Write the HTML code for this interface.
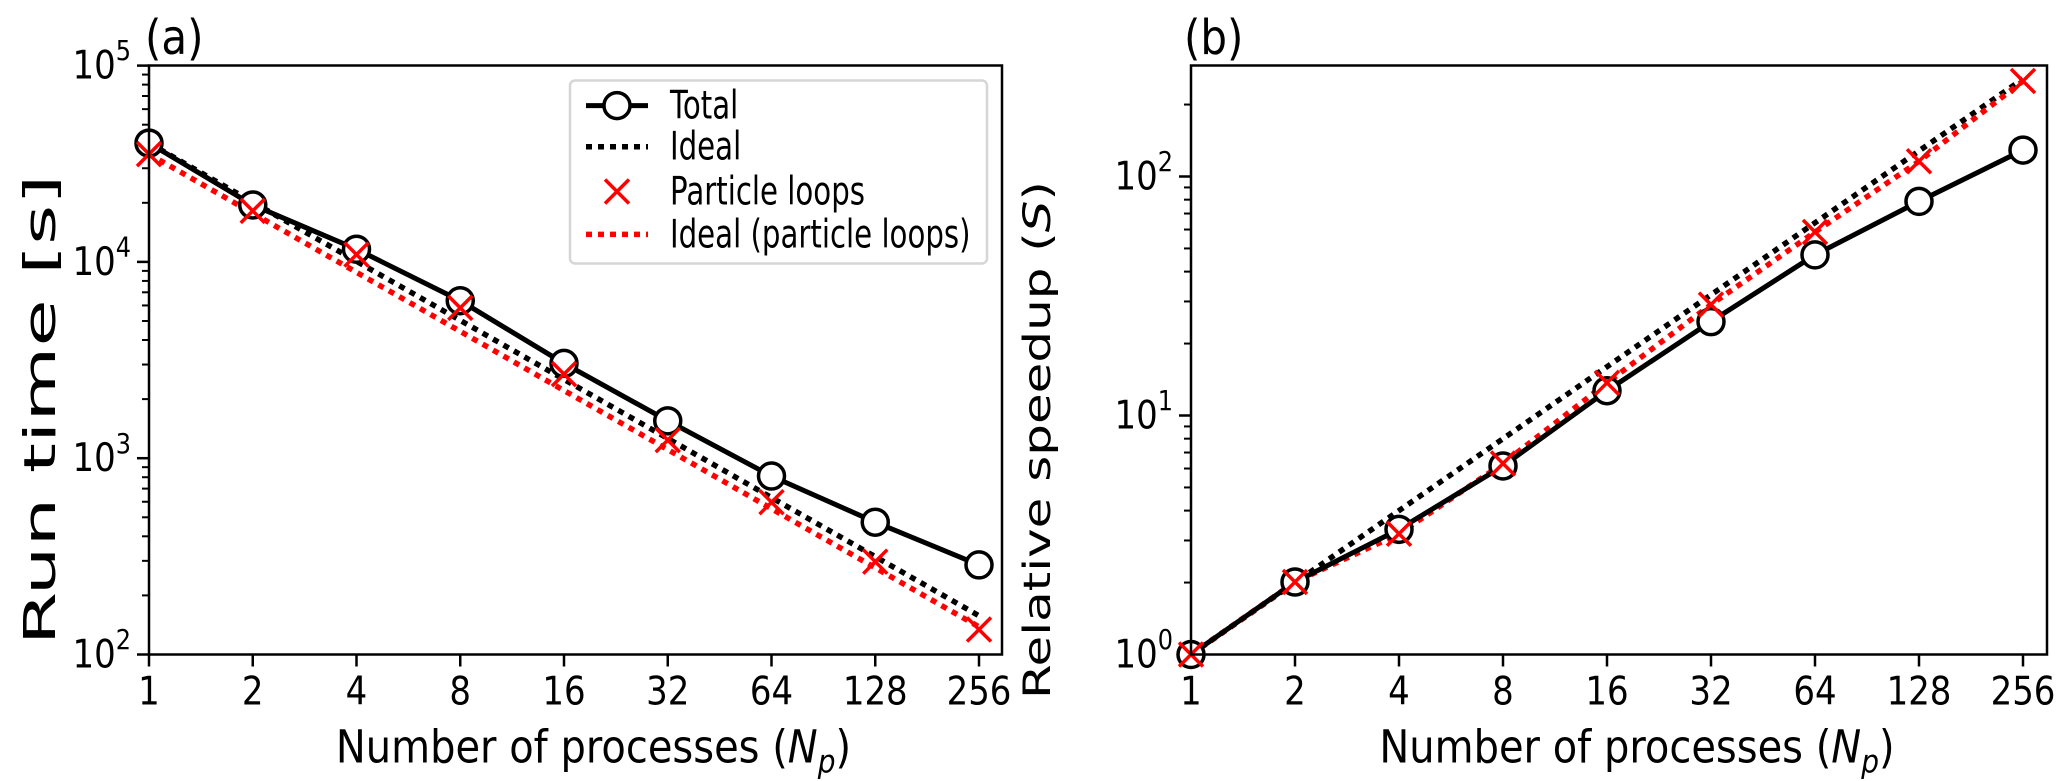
<!DOCTYPE html>
<html><head><meta charset="utf-8"><style>
html,body{margin:0;padding:0;background:#fff;}
svg{display:block;font-family:"DejaVu Sans","Liberation Sans",sans-serif;}
</style></head><body>
<svg id="fig" width="2067" height="781" viewBox="0 0 2067 781" xmlns="http://www.w3.org/2000/svg"></svg>
<script>
// ---- data ----
const procs = [1, 2, 4, 8, 16, 32, 64, 128, 256];
const xTickLabels = ["1","2","4","8","16","32","64","128","256"];
const totalTime = [40300, 19500, 11600, 6340, 3040, 1550, 811, 472, 286];
const particleTime = [35400, 18200, 10900, 5830, 2680, 1236, 597, 297, 134];
const totalSpeedup = [1, 2.01, 3.34, 6.15, 12.7, 24.7, 47, 78.7, 129];
const particleSpeedup = [1, 2.01, 3.2, 6.3, 13.7, 29.1, 58.6, 115.8, 251];
const leftYTicks = [2, 3, 4, 5];
const rightYTicks = [0, 1, 2];
const legendLabels = ["Total", "Ideal", "Particle loops", "Ideal (particle loops)"];

const NS = "http://www.w3.org/2000/svg";
const svg = document.getElementById('fig');
function el(tag, attrs, parent) {
  const e = document.createElementNS(NS, tag);
  for (const k in attrs) e.setAttribute(k, attrs[k]);
  (parent || svg).appendChild(e);
  return e;
}
function stext(parent, x, y, size, anchor, sx, sy, rot) {
  const g = el('g', {transform: 'translate(' + x + ',' + y + ')' + (rot ? ' rotate(-90)' : '') + ' scale(' + sx + ',' + sy + ')'}, parent);
  return el('text', {x: 0, y: 0, 'font-size': size, 'text-anchor': anchor}, g);
}
function makeAxes(cfg) {
  const g = el('g', {});
  
  
  const X = v => cfg.x0 + Math.log2(v) * cfg.dx;
  const Y = v => cfg.yb - (Math.log10(v) - cfg.ymin) * cfg.dy;
  for (let d = cfg.ymin; d < cfg.ymaxD; d++) {
    for (let m = 2; m <= 9; m++) {
      const y = Y(m * Math.pow(10, d));
      if (y < cfg.yt - 0.5) continue;
      const t = el('line', {x1: cfg.x0 - 7, x2: cfg.x0, y1: y, y2: y, stroke: '#000', 'stroke-width': 2}, g);
      
      
    }
  }
  cfg.yTicks.forEach(p => {
    const y = Y(Math.pow(10, p));
    const t = el('line', {x1: cfg.x0 - 12, x2: cfg.x0, y1: y, y2: y, stroke: '#000', 'stroke-width': 2.5}, g);
    
    
    const tx = stext(g, cfg.x0 - 18, y + 13, 34, 'end', 1, 1.15);
    
    
    tx.innerHTML = '10<tspan dy="-16" font-size="24">' + p + '</tspan>';
  });
  procs.forEach((p, i) => {
    const x = X(p);
    const t = el('line', {x1: x, x2: x, y1: cfg.yb, y2: cfg.yb + 12, stroke: '#000', 'stroke-width': 2.5}, g);
    
    
    const tx = stext(g, x, cfg.yb + 50, 34, 'middle', 1, 1.15);
    
    
    tx.textContent = xTickLabels[i];
  });
  const xl = stext(g, (cfg.x0 + cfg.xr) / 2 + 18, cfg.yb + 108, 40, 'middle', 1, 1.13);
  
  
  xl.innerHTML = 'Number of processes (<tspan font-style="italic">N</tspan><tspan font-style="italic" font-size="28" dy="9">p</tspan><tspan dy="-9">)</tspan>';
  const yl = stext(g, cfg.ylx, cfg.ylc, cfg.ylf, 'middle', cfg.ylsx, 1, true);
  
  
  yl.innerHTML = cfg.ylabel;
  const pl = stext(g, cfg.plx, 54, 42, 'start', 1, 1.15);
  
  
  pl.textContent = cfg.panel;
  const clip = el('clipPath', {id: 'clip' + cfg.name});
  el('rect', {x: cfg.x0, y: cfg.yt, width: cfg.xr - cfg.x0, height: cfg.yb - cfg.yt}, clip);
  const plot = el('g', {'clip-path': 'url(#clip' + cfg.name + ')'}, g);
  return {g, plot, X, Y};
}
function line(ax, xs, ys, name, attrs) {
  const d = xs.map((v, i) => (i ? 'L' : 'M') + ax.X(v).toFixed(1) + ' ' + ax.Y(ys[i]).toFixed(1)).join(' ');
  const p = el('path', Object.assign({d, fill: 'none'}, attrs), ax.plot);
  
  
}
function circles(ax, xs, ys, name) {
  xs.forEach((v, i) => {
    const c = el('circle', {cx: ax.X(v), cy: ax.Y(ys[i]), r: 13, fill: '#fff', stroke: '#000', 'stroke-width': 3.5}, ax.g);
    
    
  });
}
function crosses(ax, xs, ys, name) {
  xs.forEach((v, i) => {
    const x = ax.X(v), y = ax.Y(ys[i]), s = 12;
    const p = el('path', {d: `M${x-s} ${y-s}L${x+s} ${y+s}M${x-s} ${y+s}L${x+s} ${y-s}`, stroke: '#f00', 'stroke-width': 3.5, fill: 'none'}, ax.g);
    
    
  });
}
const solid = {stroke: '#000', 'stroke-width': 5};
const dotK = {stroke: '#000', 'stroke-width': 5.5, 'stroke-dasharray': '6 6'};
const dotR = {stroke: '#f00', 'stroke-width': 5.5, 'stroke-dasharray': '6 6'};

// ---- panel (a) ----
const A = makeAxes({name: 'run-time-chart', x0: 149, xr: 1002, dx: 103.75, yt: 65.5, yb: 654.5, ymin: 2, ymaxD: 5, dy: 196.3,
  yTicks: leftYTicks, ylx: 55, ylc: 410, ylf: 44, ylsx: 1.75, ylabel: 'Run time [s]', panel: '(a)', plx: 145});
line(A, procs, procs.map(p => totalTime[0] / p), 'ideal-line', dotK);
line(A, procs, procs.map(p => particleTime[0] / p), 'ideal-particle-line', dotR);
line(A, procs, totalTime, 'total-line', solid);
circles(A, procs, totalTime, 'total-marker');
crosses(A, procs, particleTime, 'particle-marker');

// ---- panel (b) ----
const B = makeAxes({name: 'speedup-chart', x0: 1191, xr: 2047, dx: 104, yt: 65.5, yb: 654.5, ymin: 0, ymaxD: 3, dy: 239,
  yTicks: rightYTicks, ylx: 1050, ylc: 440, ylf: 37, ylsx: 1.35, ylabel: 'Relative speedup (<tspan font-style="italic">S</tspan>)', panel: '(b)', plx: 1184});
line(B, procs, procs.map(p => p), 'ideal-line', dotK);
line(B, procs, particleSpeedup, 'ideal-particle-line', dotR);
line(B, procs, totalSpeedup, 'total-line', solid);
circles(B, procs, totalSpeedup, 'total-marker');
crosses(B, procs, particleSpeedup, 'particle-marker');

// frames
[[149, 1002], [1191, 2047]].forEach(r => {
  const f = el('rect', {x: r[0], y: 65.5, width: r[1] - r[0], height: 589, fill: 'none', stroke: '#000', 'stroke-width': 2.5});
  
  
});

// legend
const lg = el('g', {});


el('rect', {x: 570, y: 80.5, width: 417, height: 183, rx: 5, fill: '#fff', stroke: '#d6d6d6', 'stroke-width': 2.5, 'fill-opacity': 0.9}, lg);
const ly = [105.6, 146.7, 191.5, 234.4];
legendLabels.forEach((lab, i) => {
  const y = ly[i];
  const e = el('g', {}, lg);
  
  
  const hx0 = 586, hx1 = 648, hc = (hx0 + hx1) / 2;
  if (i === 0) {
    el('line', {x1: hx0, x2: hx1, y1: y, y2: y, stroke: '#000', 'stroke-width': 5}, e);
    el('circle', {cx: hc, cy: y, r: 13, fill: '#fff', stroke: '#000', 'stroke-width': 3.5}, e);
  } else if (i === 2) {
    el('path', {d: `M${hc-12} ${y-12}L${hc+12} ${y+12}M${hc-12} ${y+12}L${hc+12} ${y-12}`, stroke: '#f00', 'stroke-width': 3.5}, e);
  } else {
    el('line', Object.assign({x1: hx0, x2: hx1, y1: y, y2: y}, i === 1 ? dotK : dotR), e);
  }
  const t = stext(e, 670, y + 13, 34, 'start', 0.86, 1.15);
  t.textContent = lab;
});
</script>
</body></html>
